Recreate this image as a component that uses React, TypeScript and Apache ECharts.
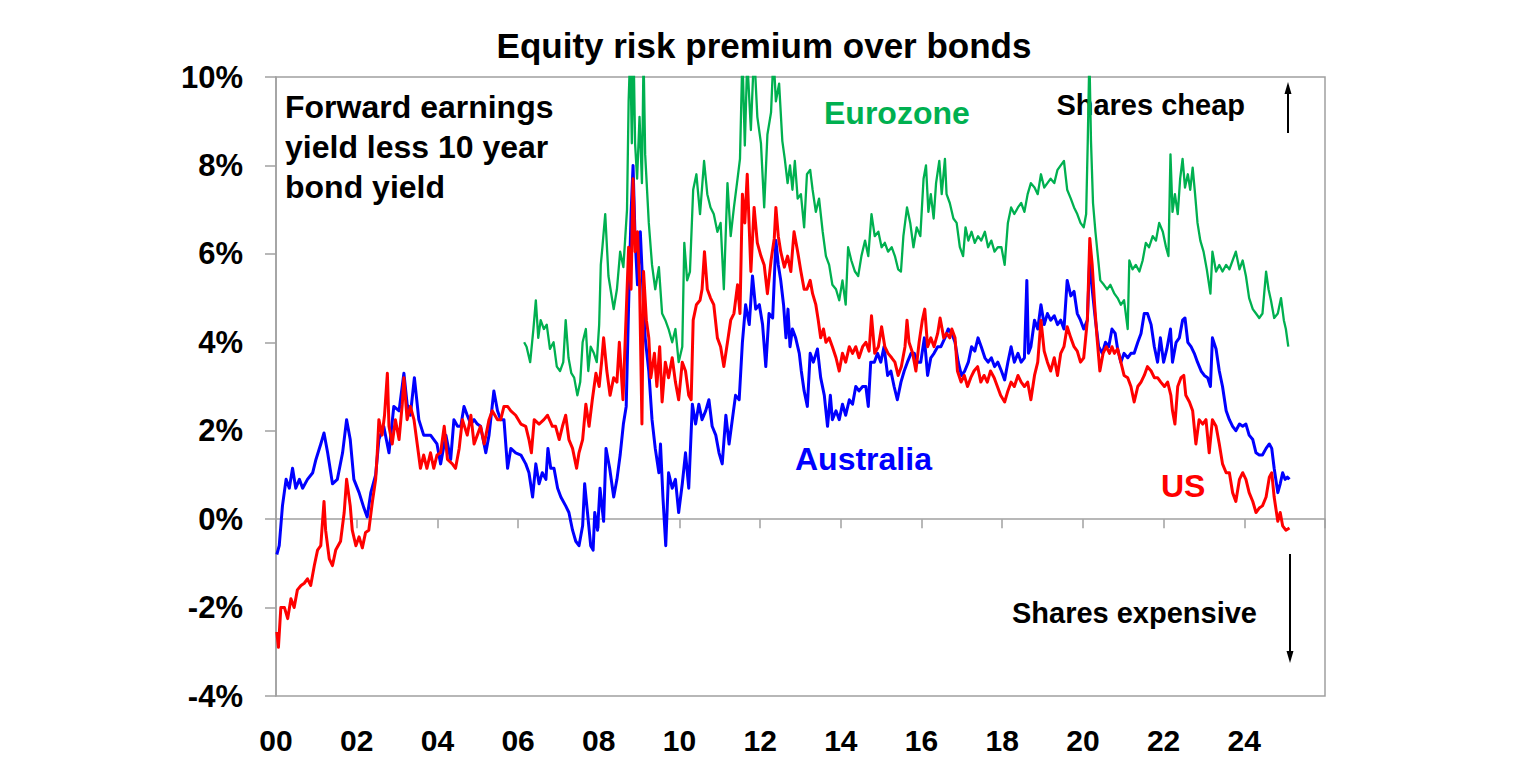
import React, { useEffect, useRef } from 'react';
import * as echarts from 'echarts';

// x = years since 2000, y = equity risk premium (%)
const australia: [number, number][] = [
  [0.02,-0.8],[0.08,-0.6],[0.16,0.3],[0.25,0.9],[0.33,0.7],[0.41,1.15],[0.49,0.7],[0.58,0.9],[0.66,0.7],[0.78,0.9],[0.91,1.05],[0.99,1.35],[1.11,1.7],[1.19,1.95],[1.28,1.5],[1.40,0.8],[1.52,0.9],[1.65,1.5],[1.75,2.25],[1.84,1.8],[1.93,0.9],[2.06,0.6],[2.18,0.25],[2.26,0.05],[2.35,0.6],[2.47,1.0],[2.55,1.8],[2.67,2.1],[2.80,1.5],[2.92,2.55],[3.05,2.45],[3.17,3.3],[3.25,2.6],[3.33,2.35],[3.43,3.2],[3.54,2.25],[3.66,1.9],[3.83,1.9],[3.99,1.7],
  [4.08,1.25],[4.21,1.9],[4.33,1.35],[4.41,2.25],[4.50,2.1],[4.58,2.1],[4.66,2.55],[4.74,2.35],[4.83,2.15],[4.91,2.25],[4.99,2.15],[5.07,2.1],[5.20,1.5],[5.28,1.9],[5.40,2.9],[5.49,2.45],[5.57,2.25],[5.65,2.25],[5.74,1.15],[5.82,1.6],[5.94,1.5],[6.07,1.45],[6.19,1.25],[6.27,1.05],[6.36,0.5],[6.44,1.25],[6.52,0.8],[6.60,1.05],[6.69,0.9],[6.74,1.6],[6.81,1.15],[6.89,1.15],[6.98,0.7],[7.06,0.5],[7.18,0.3],[7.26,0.15],[7.35,-0.25],[7.43,-0.5],[7.51,-0.6],[7.60,-0.15],[7.65,0.8],[7.72,0.15],[7.80,-0.6],[7.86,-0.7],[7.90,0.15],[7.97,-0.25],
  [8.03,0.7],[8.12,-0.05],[8.18,1.6],[8.27,1.15],[8.37,0.5],[8.45,0.9],[8.53,1.45],[8.61,2.15],[8.68,2.55],[8.74,4.85],[8.80,6.9],[8.85,8.0],[8.90,6.35],[8.96,5.3],[9.03,6.5],[9.10,5.05],[9.15,4.1],[9.24,3.35],[9.32,2.25],[9.40,1.6],[9.49,1.05],[9.53,1.7],[9.59,0.5],[9.66,-0.6],[9.73,1.05],[9.82,0.7],[9.90,0.9],[9.98,0.15],[10.07,0.8],[10.15,1.5],[10.23,0.7],[10.32,2.6],[10.40,2.15],[10.48,2.6],[10.56,2.25],[10.65,2.45],[10.73,2.7],[10.81,2.1],[10.90,1.9],[10.98,1.5],[11.06,1.25],[11.15,2.35],[11.23,1.7],[11.31,2.25],[11.39,2.8],[11.48,2.7],[11.56,4.0],[11.64,4.85],[11.73,4.4],[11.81,5.5],[11.89,4.75],[11.98,4.85],[12.06,4.4],[12.14,3.45],[12.22,4.65],[12.31,4.55],
  [12.39,6.3],[12.45,5.75],[12.51,5.4],[12.58,4.85],[12.64,4.1],[12.69,4.75],[12.74,3.9],[12.80,4.3],[12.88,4.1],[12.97,3.75],[13.02,3.35],[13.09,2.9],[13.17,2.55],[13.24,3.75],[13.32,3.55],[13.42,3.85],[13.50,3.2],[13.59,2.8],[13.67,2.1],[13.74,2.8],[13.79,2.25],[13.88,2.45],[13.96,2.25],[14.04,2.6],[14.12,2.35],[14.21,2.7],[14.29,2.6],[14.37,3.0],[14.45,2.9],[14.54,3.0],[14.62,3.0],[14.68,2.55],[14.74,3.55],[14.83,3.55],[14.91,3.75],[14.99,3.55],[15.07,3.9],[15.16,3.25],[15.24,3.35],[15.32,3.0],[15.40,2.7],[15.49,3.1],[15.57,3.35],[15.65,3.55],[15.74,3.75],[15.82,3.75],[15.90,3.55],[15.98,3.55],[16.07,4.1],[16.15,3.25],[16.23,3.65],[16.31,3.75],[16.40,3.9],[16.48,3.9],
  [16.58,4.1],[16.66,4.3],[16.75,4.2],[16.83,4.0],[16.91,3.55],[16.99,3.25],[17.07,3.35],[17.16,3.55],[17.24,3.9],[17.32,3.8],[17.40,4.1],[17.48,3.9],[17.57,3.65],[17.65,3.55],[17.73,3.65],[17.81,3.45],[17.89,3.55],[17.98,3.35],[18.06,3.15],[18.14,3.55],[18.22,3.9],[18.30,3.55],[18.39,3.75],[18.47,3.55],[18.55,3.65],[18.61,5.4],[18.65,3.75],[18.71,3.9],[18.80,4.5],[18.88,4.3],[18.96,4.85],[19.04,4.4],[19.12,4.65],[19.20,4.5],[19.29,4.6],[19.37,4.4],[19.45,4.5],[19.53,4.3],[19.61,5.4],[19.70,5.05],[19.78,5.15],[19.86,4.65],[19.94,4.5],[20.02,4.3],[20.11,4.5],[20.17,5.95],[20.23,5.2],[20.31,4.5],[20.39,3.9],[20.48,3.75],[20.56,4.0],[20.64,3.9],
  [20.72,4.3],[20.80,4.2],[20.86,3.85],[20.94,3.55],[21.02,3.75],[21.11,3.65],[21.19,3.75],[21.27,3.75],[21.36,4.0],[21.44,4.2],[21.52,4.65],[21.60,4.65],[21.69,4.4],[21.77,3.9],[21.85,3.55],[21.92,4.1],[22.00,3.55],[22.08,3.85],[22.17,4.3],[22.22,3.55],[22.31,4.0],[22.39,4.1],[22.47,4.5],[22.53,4.55],[22.60,4.0],[22.68,3.9],[22.76,3.75],[22.84,3.55],[22.93,3.35],[23.01,3.25],[23.09,3.2],[23.16,3.0],[23.21,4.1],[23.30,3.85],[23.38,3.35],[23.46,3.0],[23.55,2.45],[23.63,2.25],[23.71,2.1],[23.79,2.0],[23.88,2.15],[23.96,2.1],[24.04,2.15],[24.12,1.9],[24.21,1.8],[24.29,1.5],[24.37,1.45],[24.45,1.45],[24.54,1.6],[24.62,1.7],[24.68,1.6],[24.74,1.15],[24.83,0.6],[24.89,0.8],[24.95,1.05],[25.01,0.9],[25.07,0.95],[25.12,0.9]
];

const us: [number, number][] = [
  [0.02,-2.55],[0.06,-2.9],[0.12,-2.0],[0.21,-2.0],[0.29,-2.25],[0.37,-1.8],[0.45,-2.0],[0.53,-1.6],[0.62,-1.5],[0.70,-1.45],[0.78,-1.35],[0.86,-1.5],[0.95,-1.05],[1.03,-0.7],[1.11,-0.6],[1.19,0.4],[1.23,-0.25],[1.32,-0.9],[1.40,-1.05],[1.48,-0.7],[1.60,-0.5],[1.69,0.15],[1.75,0.9],[1.84,0.3],[1.89,-0.25],[1.98,-0.6],[2.06,-0.4],[2.14,-0.65],[2.22,-0.3],[2.30,-0.25],[2.39,0.4],[2.47,0.9],[2.51,1.5],[2.55,2.25],[2.63,1.9],[2.69,2.35],[2.76,3.3],[2.80,2.1],[2.88,1.7],[2.96,2.25],[3.05,1.8],[3.13,2.6],[3.17,3.2],[3.25,2.25],[3.33,2.55],[3.42,2.25],[3.50,1.7],[3.58,1.15],[3.66,1.45],[3.74,1.15],[3.83,1.5],[3.91,1.15],[3.99,1.45],
  [4.08,1.5],[4.17,2.1],[4.25,1.35],[4.37,1.25],[4.45,1.15],[4.54,1.6],[4.62,2.25],[4.74,1.9],[4.83,2.35],[4.91,1.7],[4.99,1.9],[5.07,2.1],[5.16,1.7],[5.28,2.25],[5.36,2.45],[5.49,2.25],[5.57,2.25],[5.65,2.55],[5.74,2.55],[5.82,2.45],[5.94,2.35],[6.07,2.15],[6.19,2.1],[6.27,1.8],[6.33,1.5],[6.40,2.25],[6.52,2.15],[6.64,2.25],[6.73,2.35],[6.85,2.1],[6.93,2.1],[7.02,1.8],[7.10,2.1],[7.18,2.35],[7.26,1.8],[7.35,1.6],[7.45,1.15],[7.51,1.5],[7.60,1.8],[7.68,2.6],[7.76,2.1],[7.84,2.7],[7.93,3.3],[8.01,3.0],
  [8.07,3.55],[8.12,4.1],[8.20,3.35],[8.28,2.8],[8.37,3.2],[8.45,3.1],[8.51,4.0],[8.60,2.7],[8.68,4.65],[8.74,6.15],[8.80,5.2],[8.85,7.7],[8.90,6.05],[8.96,6.5],[9.01,5.4],[9.07,2.15],[9.11,5.6],[9.18,4.5],[9.24,4.1],[9.29,3.2],[9.38,3.75],[9.44,3.0],[9.51,3.9],[9.57,2.65],[9.65,3.55],[9.73,3.2],[9.82,3.65],[9.90,3.1],[9.98,2.7],[10.07,3.55],[10.15,3.35],[10.23,2.8],[10.29,2.7],[10.34,4.5],[10.42,4.85],[10.51,4.95],[10.56,5.2],[10.62,6.05],[10.69,5.2],[10.77,5.0],[10.85,4.85],[10.94,4.1],[11.02,3.9],[11.10,3.45],[11.19,4.0],[11.27,4.5],[11.35,4.65],[11.44,5.3],[11.50,4.65],[11.56,7.35],[11.62,6.7],[11.68,7.8],[11.77,5.6],[11.85,7.05],[11.93,6.25],[12.02,5.95],[12.10,5.75],[12.18,5.1],[12.27,5.85],
  [12.35,6.35],[12.39,7.05],[12.45,6.4],[12.51,6.05],[12.60,5.7],[12.68,5.95],[12.76,5.6],[12.84,6.5],[12.93,6.05],[13.01,5.6],[13.09,5.2],[13.16,5.2],[13.24,5.4],[13.30,5.1],[13.38,4.85],[13.44,4.5],[13.50,4.1],[13.57,4.3],[13.63,4.0],[13.71,4.1],[13.79,3.9],[13.88,3.65],[13.96,3.35],[14.04,3.75],[14.12,3.55],[14.21,3.9],[14.29,3.75],[14.37,3.9],[14.45,3.65],[14.54,3.9],[14.62,4.0],[14.70,3.8],[14.76,4.6],[14.84,3.75],[14.93,3.9],[15.01,4.35],[15.09,3.9],[15.17,3.75],[15.26,3.65],[15.34,3.55],[15.42,3.25],[15.50,3.45],[15.59,3.9],[15.64,4.5],[15.69,4.0],[15.78,3.75],[15.86,3.35],[15.94,4.0],[16.02,4.5],[16.08,4.75],[16.15,3.9],[16.23,4.1],[16.31,3.9],[16.40,4.2],[16.46,4.55],
  [16.55,4.1],[16.62,4.2],[16.70,4.1],[16.75,4.3],[16.83,4.1],[16.89,3.35],[16.98,3.1],[17.06,3.25],[17.14,3.0],[17.22,3.2],[17.30,3.35],[17.39,3.45],[17.47,3.1],[17.55,3.25],[17.63,3.1],[17.71,3.35],[17.80,3.2],[17.88,3.0],[17.96,2.8],[18.06,2.65],[18.14,2.9],[18.22,3.1],[18.30,3.0],[18.39,3.25],[18.47,3.1],[18.55,3.0],[18.63,3.1],[18.71,2.7],[18.80,3.25],[18.88,3.55],[18.96,4.5],[19.04,3.8],[19.12,3.55],[19.20,3.35],[19.29,3.65],[19.37,3.25],[19.45,3.75],[19.53,3.9],[19.61,4.35],[19.70,4.1],[19.78,3.9],[19.86,3.8],[19.94,3.55],[20.02,3.65],[20.11,4.5],[20.17,6.35],[20.23,5.75],[20.29,4.85],[20.35,4.1],[20.42,3.35],[20.50,3.75],[20.58,3.9],[20.66,3.75],
  [20.72,3.9],[20.78,3.75],[20.86,3.85],[20.94,3.55],[21.02,3.25],[21.11,3.2],[21.19,3.0],[21.27,2.65],[21.36,3.0],[21.44,3.1],[21.52,3.25],[21.60,3.45],[21.69,3.35],[21.77,3.2],[21.85,3.2],[21.93,3.1],[22.02,3.0],[22.10,3.1],[22.18,2.8],[22.22,2.45],[22.28,2.15],[22.35,3.0],[22.43,3.2],[22.50,3.25],[22.55,2.8],[22.64,2.65],[22.72,2.45],[22.80,1.7],[22.88,2.25],[22.97,2.15],[23.05,2.25],[23.13,1.5],[23.21,2.25],[23.30,2.1],[23.38,1.7],[23.46,1.25],[23.55,1.05],[23.63,1.05],[23.71,0.6],[23.79,0.4],[23.88,0.9],[23.96,1.05],[24.04,0.9],[24.12,0.6],[24.21,0.4],[24.29,0.15],[24.37,0.25],[24.45,0.3],[24.54,0.5],[24.62,0.95],[24.68,1.05],[24.74,0.5],[24.83,-0.05],[24.89,0.15],[24.95,-0.15],[25.03,-0.25],[25.12,-0.2]
];

const eurozone: [number, number][] = [
  [6.15,4.0],[6.21,3.9],[6.30,3.55],[6.38,4.3],[6.44,4.95],[6.50,4.1],[6.56,4.5],[6.64,4.3],[6.71,4.4],[6.79,3.85],[6.88,4.0],[6.96,3.45],[7.04,3.35],[7.12,3.55],[7.18,4.5],[7.25,3.65],[7.32,3.3],[7.39,3.2],[7.47,2.8],[7.54,3.1],[7.60,4.0],[7.68,4.3],[7.74,3.35],[7.80,3.9],[7.88,3.75],[7.95,3.55],
  [8.01,4.4],[8.05,5.75],[8.09,6.15],[8.16,6.9],[8.24,5.5],[8.37,4.75],[8.45,5.2],[8.53,6.05],[8.61,5.7],[8.70,7.0],[8.74,9.45],[8.78,10.6],[8.82,8.5],[8.86,10.8],[8.90,8.5],[8.95,7.7],[9.01,9.1],[9.07,7.6],[9.11,10.5],[9.15,8.25],[9.24,6.7],[9.32,5.75],[9.40,5.2],[9.49,5.7],[9.57,4.65],[9.65,4.5],[9.73,4.3],[9.82,4.0],[9.90,4.3],[9.98,3.55],[10.07,3.9],[10.12,6.25],[10.19,5.4],[10.26,5.6],[10.34,7.45],[10.42,7.8],[10.51,6.9],[10.61,8.1],[10.69,7.35],[10.77,7.05],[10.85,6.9],[10.94,6.5],[11.02,6.7],[11.10,5.2],[11.19,7.6],[11.27,6.4],[11.35,7.05],[11.44,7.7],[11.50,8.15],[11.56,10.5],[11.62,8.45],[11.68,10.4],[11.77,8.8],[11.85,10.6],[11.93,9.1],[12.02,8.5],[12.10,7.05],[12.18,8.7],[12.27,9.2],
  [12.33,10.5],[12.39,9.45],[12.47,9.85],[12.55,8.55],[12.61,8.15],[12.68,7.6],[12.74,8.0],[12.80,7.45],[12.86,8.1],[12.93,7.25],[13.01,7.35],[13.09,6.6],[13.16,7.8],[13.24,7.9],[13.30,7.45],[13.38,6.95],[13.46,7.25],[13.55,6.5],[13.63,5.95],[13.71,5.75],[13.79,5.3],[13.88,5.2],[13.96,4.95],[14.04,5.4],[14.12,4.85],[14.18,6.15],[14.26,5.85],[14.35,5.6],[14.43,5.5],[14.51,5.95],[14.60,6.3],[14.68,5.95],[14.76,6.9],[14.84,6.4],[14.93,6.5],[15.01,6.15],[15.09,6.25],[15.17,6.05],[15.26,6.15],[15.34,5.95],[15.42,5.65],[15.49,5.6],[15.55,6.4],[15.64,7.05],[15.72,6.7],[15.80,6.15],[15.88,6.6],[15.97,6.4],[16.05,7.7],[16.11,8.0],[16.17,6.95],[16.23,7.35],[16.30,6.8],[16.36,7.6],[16.44,8.1],
  [16.50,7.35],[16.58,8.15],[16.62,7.35],[16.70,7.15],[16.79,6.8],[16.87,6.7],[16.95,6.15],[17.03,5.95],[17.09,6.6],[17.16,6.3],[17.24,6.5],[17.32,6.25],[17.40,6.4],[17.48,6.3],[17.57,6.5],[17.65,6.15],[17.73,6.3],[17.81,6.05],[17.89,6.15],[17.98,6.15],[18.06,5.75],[18.14,6.7],[18.22,7.05],[18.30,6.9],[18.39,7.05],[18.47,7.15],[18.55,6.95],[18.63,7.35],[18.71,7.6],[18.80,7.5],[18.88,7.35],[18.96,7.8],[19.04,7.5],[19.12,7.6],[19.20,7.7],[19.29,7.6],[19.37,7.9],[19.45,8.0],[19.53,8.1],[19.61,7.45],[19.70,7.25],[19.78,7.05],[19.86,6.9],[19.94,6.7],[20.02,6.6],[20.08,6.9],[20.12,8.55],[20.16,10.5],[20.20,8.55],[20.25,7.15],[20.31,6.5],[20.37,5.95],[20.43,5.4],[20.52,5.3],[20.60,5.2],[20.68,5.3],
  [20.78,5.1],[20.86,5.0],[20.94,4.85],[21.02,4.95],[21.11,4.3],[21.15,5.85],[21.23,5.65],[21.31,5.75],[21.40,5.6],[21.48,5.85],[21.56,6.25],[21.64,6.15],[21.73,6.4],[21.81,6.3],[21.89,6.7],[21.98,6.5],[22.06,6.15],[22.12,5.95],[22.17,8.25],[22.22,6.95],[22.28,7.35],[22.35,6.9],[22.41,7.7],[22.47,8.15],[22.53,7.5],[22.60,7.8],[22.66,7.45],[22.72,7.95],[22.78,7.35],[22.84,6.7],[22.91,6.3],[22.99,6.05],[23.07,5.65],[23.16,5.1],[23.21,6.05],[23.30,5.6],[23.38,5.75],[23.46,5.6],[23.55,5.75],[23.63,5.65],[23.71,5.85],[23.79,6.05],[23.88,5.65],[23.96,5.85],[24.04,5.5],[24.12,5.0],[24.21,4.75],[24.29,4.65],[24.37,4.55],[24.45,4.65],[24.54,5.6],[24.60,5.2],[24.66,4.95],[24.74,4.55],[24.83,4.65],[24.91,5.0],[24.98,4.5],[25.03,4.3],[25.09,3.9]
];

const xTickLabels = ['00', '02', '04', '06', '08', '10', '12', '14', '16', '18', '20', '22', '24'];
const yTickValues = [-4, -2, 0, 2, 4, 6, 8, 10];

const FONT = "'Liberation Sans', Arial, Helvetica, sans-serif";
const GRAY = '#a0a0a0';

function textEl(text: string, x: number, y: number, size: number, fill: string, align: string, extra: any = {}) {
  return {
    type: 'text',
    silent: true,
    style: {
      text, x, y, fill,
      font: `bold ${size}px ${FONT}`,
      align, textAlign: align,
      verticalAlign: 'middle', textVerticalAlign: 'middle',
      ...extra,
    },
  };
}

export default function App() {
  const ref = useRef<HTMLDivElement>(null);

  useEffect(() => {
    const chart = echarts.init(ref.current!, null, { renderer: 'svg' });
    const yMin = yTickValues[0];
    const yMax = yTickValues[yTickValues.length - 1];
    chart.setOption({
      animation: false,
      backgroundColor: '#ffffff',
      grid: { left: 276, right: 211, top: 77, bottom: 79, show: true, borderColor: GRAY, borderWidth: 1.5, backgroundColor: 'transparent' },
      xAxis: [
        {
          type: 'value', min: 0, max: 26, interval: 2, position: 'bottom',
          axisLine: { show: false, onZero: false },
          axisTick: { show: false },
          splitLine: { show: false },
          axisLabel: {
            formatter: (v: number) => xTickLabels[Math.round(v / 2)] ?? '',
            fontFamily: FONT, fontWeight: 'bold', fontSize: 30, color: '#000', margin: 29,
          },
        },
        {
          type: 'value', min: 0, max: 26, interval: 2, position: 'top',
          axisLine: { show: true, onZero: true, lineStyle: { color: GRAY, width: 1.5 } },
          axisTick: { show: true, inside: true, length: 9, lineStyle: { color: GRAY, width: 1.5 } },
          axisLabel: { show: false },
          splitLine: { show: false },
        },
      ],
      yAxis: {
        type: 'value', min: yMin, max: yMax, interval: 2,
        axisLine: { show: true, onZero: false, lineStyle: { color: GRAY, width: 1.5 } },
        axisTick: { show: true, length: 11, lineStyle: { color: GRAY, width: 1.5 } },
        splitLine: { show: false },
        axisLabel: {
          formatter: (v: number) => `${v}%`,
          fontFamily: FONT, fontWeight: 'bold', fontSize: 31, color: '#000', margin: 33,
        },
      },
      series: [
        { name: 'Australia', type: 'line', data: australia, showSymbol: false, symbol: 'none', clip: true, silent: true, lineStyle: { color: '#0000ff', width: 3, join: 'round' }, z: 3 },
        { name: 'US', type: 'line', data: us, showSymbol: false, symbol: 'none', clip: true, silent: true, lineStyle: { color: '#ff0000', width: 3, join: 'round' }, z: 4 },
        { name: 'Eurozone', type: 'line', data: eurozone, showSymbol: false, symbol: 'none', clip: true, silent: true, lineStyle: { color: '#00b050', width: 2.3, join: 'round' }, z: 5 },
      ],
      graphic: [
        textEl('Equity risk premium over bonds', 764, 45, 35, '#000', 'center'),
        textEl('Forward earnings\nyield less 10 year\nbond yield', 285, 147, 32, '#000', 'left', { lineHeight: 40 }),
        textEl('Eurozone', 824, 113, 32, '#00b050', 'left'),
        textEl('Australia', 795, 459, 32, '#0000ff', 'left'),
        textEl('US', 1161, 486, 32, '#ff0000', 'left'),
        textEl('Shares cheap', 1245, 105, 29, '#000', 'right'),
        textEl('Shares expensive', 1257, 613, 29, '#000', 'right'),
        { type: 'line', silent: true, shape: { x1: 1288, y1: 133, x2: 1288, y2: 92 }, style: { stroke: '#000', lineWidth: 2 } },
        { type: 'polygon', silent: true, shape: { points: [[1288, 82], [1284.5, 94], [1291.5, 94]] }, style: { fill: '#000' } },
        { type: 'line', silent: true, shape: { x1: 1290, y1: 554, x2: 1290, y2: 652 }, style: { stroke: '#000', lineWidth: 2 } },
        { type: 'polygon', silent: true, shape: { points: [[1290, 663], [1286.5, 651], [1293.5, 651]] }, style: { fill: '#000' } },
      ],
    });
    return () => chart.dispose();
  }, []);

  return (
    <div
      ref={ref}
      style={{ position: 'fixed', left: 0, top: 0, width: 1536, height: 775, background: '#ffffff' }}
    />
  );
}
